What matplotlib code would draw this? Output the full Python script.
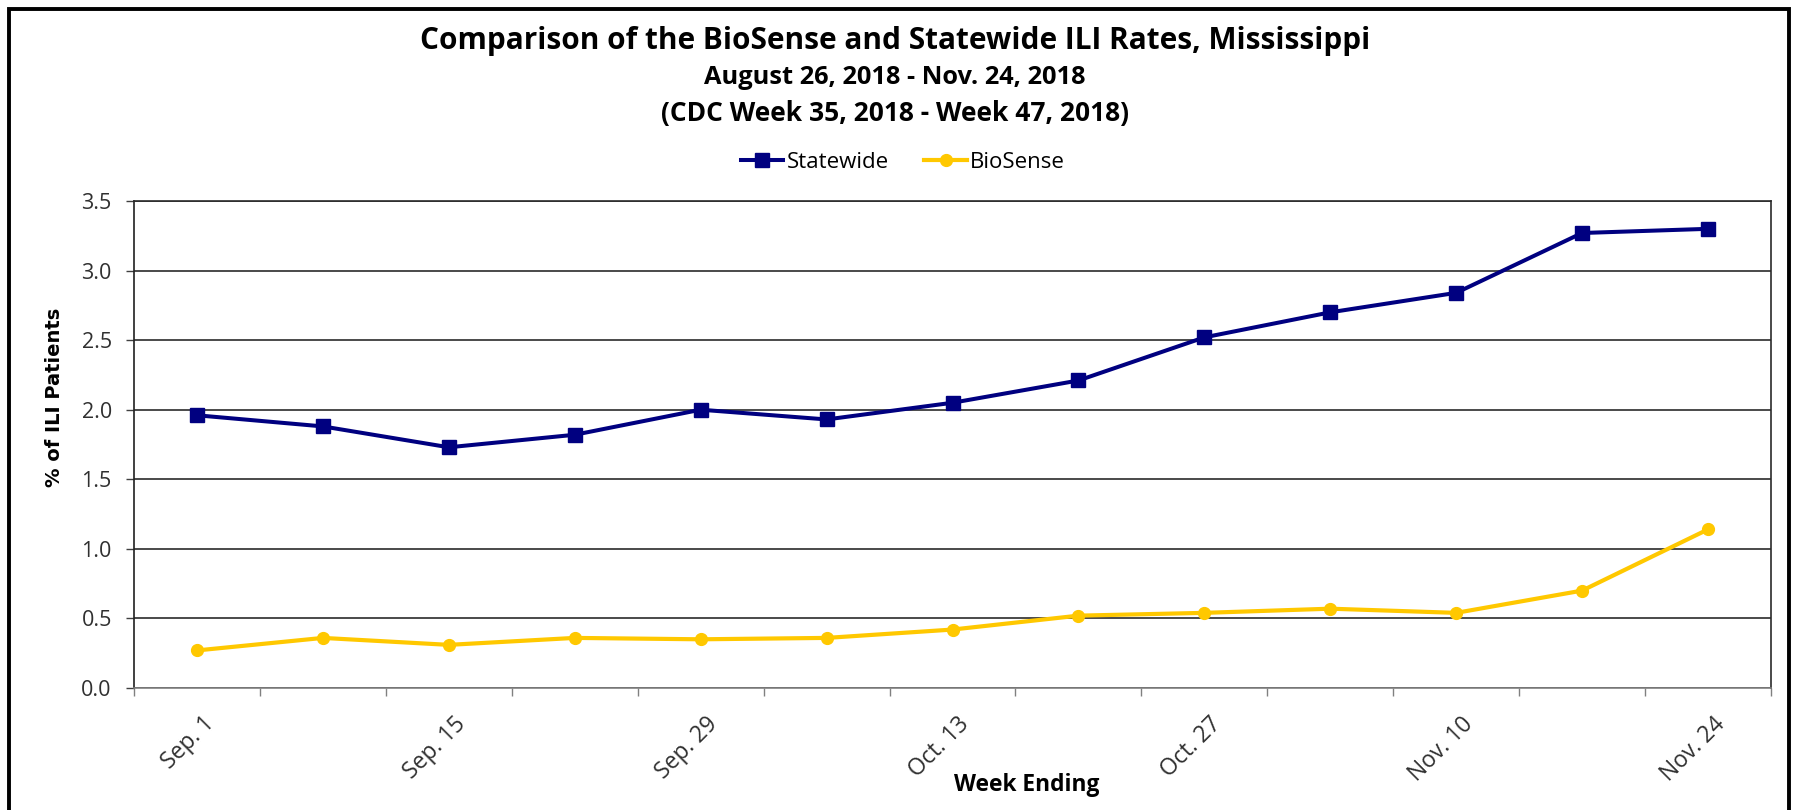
import matplotlib
matplotlib.use("Agg")
import matplotlib.pyplot as plt
from matplotlib import font_manager
from matplotlib.patches import Rectangle
import matplotlib.transforms as mtransforms
import numpy as np

# ---- data ----
weeks = ["Sep. 1", "Sep. 8", "Sep. 15", "Sep. 22", "Sep. 29", "Oct. 6", "Oct. 13",
         "Oct. 20", "Oct. 27", "Nov. 3", "Nov. 10", "Nov. 17", "Nov. 24"]
statewide = [1.96, 1.88, 1.73, 1.82, 2.00, 1.93, 2.05, 2.21, 2.52, 2.70, 2.84, 3.27, 3.30]
biosense = [0.27, 0.36, 0.31, 0.36, 0.35, 0.36, 0.42, 0.52, 0.54, 0.57, 0.54, 0.70, 1.14]
y_ticks = [0.0, 0.5, 1.0, 1.5, 2.0, 2.5, 3.0, 3.5]
title = "Comparison of the BioSense and Statewide ILI Rates, Mississippi"
subtitle1 = "August 26, 2018 - Nov. 24, 2018"
subtitle2 = "(CDC Week 35, 2018 - Week 47, 2018)"


def have(fam):
    try:
        font_manager.findfont(font_manager.FontProperties(family=fam), fallback_to_default=False)
        return True
    except Exception:
        return False

cond = "Liberation Sans Narrow" if have("Liberation Sans Narrow") else "Open Sans"
reg = "Open Sans" if have("Open Sans") else "DejaVu Sans"

W, H = 1798, 810
fig = plt.figure(figsize=(W / 100, H / 100), dpi=100)
fig.patch.set_facecolor("white")

left, right, top, bottom = 134, 1771, 201, 688
ax = fig.add_axes([left / W, 1 - bottom / H, (right - left) / W, (bottom - top) / H])

x = np.arange(len(weeks))
ax.plot(x, statewide, color="#000080", lw=2.9, marker="s", ms=9.5, mec="#000080",
        mfc="#000080", label="Statewide", zorder=4)
ax.plot(x, biosense, color="#FFC800", lw=3.0, marker="o", ms=8.5, mec="#FFC800",
        mfc="#FFC800", label="BioSense", zorder=4)

ax.set_xlim(-0.5, len(weeks) - 0.5)
ax.set_ylim(0, 3.5)
ax.set_yticks(y_ticks)
ax.set_yticklabels([f"{v:.1f}" for v in y_ticks])
ax.yaxis.grid(True, color="#2b2b2b", lw=1.2)
ax.set_axisbelow(True)
ax.set_xticks(np.arange(-0.5, len(weeks), 1.0))
ax.set_xticklabels([])
ax.tick_params(axis="x", length=6, width=1, color="#808080", direction="out")
ax.tick_params(axis="y", length=6, width=1, color="#404040", direction="out", pad=10,
               labelcolor="#303030")
for s in ["top", "right"]:
    ax.spines[s].set_color("#2b2b2b")
    ax.spines[s].set_linewidth(1.2)
ax.spines["left"].set_color("#202020")
ax.spines["left"].set_linewidth(1.2)
ax.spines["bottom"].set_color("#808080")
ax.spines["bottom"].set_linewidth(1.2)

renderer = fig.canvas.get_renderer()


def fit_width(t, target):
    w = t.get_window_extent(renderer=renderer).width
    t.set_fontsize(t.get_fontsize() * target / w)


for lab in ax.get_yticklabels():
    lab.set_family(reg)
    lab.set_fontsize(15.5)

# x tick labels every other week, at category centres
trans = mtransforms.blended_transform_factory(ax.transData, ax.transAxes) + \
    mtransforms.ScaledTranslation(5 / 100, -24 / 100, fig.dpi_scale_trans)
for i in range(0, len(weeks), 2):
    ax.text(x[i], 0, weeks[i], transform=trans, rotation=45, rotation_mode="anchor",
            ha="right", va="top", family=reg, fontsize=16.5, color="#303030")

# titles
t1 = fig.text(895 / W, 1 - 41 / H, title, ha="center", va="center", family=cond,
              weight="bold", fontsize=20)
t2 = fig.text(895 / W, 1 - 78 / H, subtitle1, ha="center", va="center", family=cond,
              weight="bold", fontsize=15)
t3 = fig.text(895 / W, 1 - 113 / H, subtitle2, ha="center", va="center", family=cond,
              weight="bold", fontsize=15)
fit_width(t1, 948)
fit_width(t2, 383)
t3.set_fontsize(t2.get_fontsize() * 1.04)

yl = fig.text(55 / W, 1 - 397 / H, "% of ILI Patients", rotation=90, ha="center",
              va="center", family="DejaVu Sans", weight="bold", fontsize=14)
xl = fig.text(1027 / W, 1 - 785 / H, "Week Ending", ha="center", va="center",
              family=cond, weight="bold", fontsize=16)
yl_tmp = fig.text(0, 0, "% of ILI Patients", family="DejaVu Sans", weight="bold", fontsize=14)
w = yl_tmp.get_window_extent(renderer=renderer).width
yl.set_fontsize(14 * 180 / w)
yl_tmp.remove()
fit_width(xl, 146)

leg = fig.legend(loc="center", bbox_to_anchor=(903 / W, 1 - 162 / H), ncol=2,
                 frameon=False, prop={"family": cond, "size": 16},
                 handlelength=1.9, handletextpad=0.15, columnspacing=1.6)

# outer frame
fig.add_artist(Rectangle((9 / W, -0.02), (W - 18) / W, 1 - 9 / H + 0.02,
                         transform=fig.transFigure, fill=False, ec="black", lw=2.8))

fig.savefig("out.png", dpi=100, facecolor="white")
